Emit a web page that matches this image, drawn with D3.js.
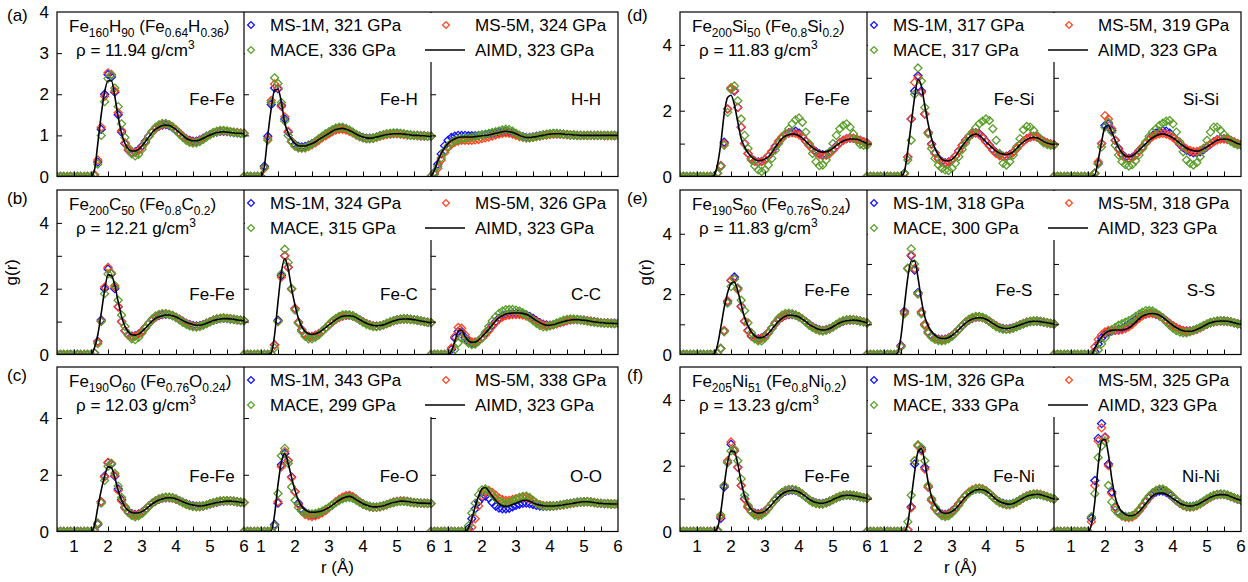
<!DOCTYPE html>
<html>
<head>
<meta charset="utf-8">
<script src="https://cdn.jsdelivr.net/npm/d3@7"></script>
<style>
body { margin: 0; background: #fff; }
svg text { font-family: "Liberation Sans", Arial, Helvetica, sans-serif; fill: #000; }
</style>
</head>
<body>
<div id="chart"></div>
<script>
// r grid (Angstrom) shared by every curve
var rGrid = [0.5,0.6,0.7,0.8,0.9,1.0,1.1,1.2,1.3,1.4,1.5,1.6,1.7,1.8,1.9,2.0,2.1,2.2,2.3,2.4,2.5,2.6,2.7,2.8,2.9,3.0,
  3.1,3.2,3.3,3.4,3.5,3.6,3.7,3.8,3.9,4.0,4.1,4.2,4.3,4.4,4.5,4.6,4.7,4.8,4.9,5.0,5.1,5.2,5.3,5.4,5.5,5.6,5.7,5.8,5.9,6.0];

// ---- (a) Fe-H ----
var aFeFe_aimd = [0,0,0,0,0,0,0,0,0,0,0, 0.15,0.8,1.5,2.05,2.33,2.33,1.95,1.45,1.05,0.8, 0.67,0.62,0.62,0.66,0.74,0.85,0.96,1.07,1.15,1.2, 1.24,1.25,1.24,1.2,1.14,1.07,1.0,0.93,0.89,0.87, 0.87,0.89,0.93,0.97,1.01,1.04,1.07,1.08,1.09,1.08, 1.07,1.06,1.05,1.05,1.04];
var aFeFe_ms1 = [0,0,0,0,0,0,0,0,0,0,0, 0.04,0.35,1.15,2.0,2.48,2.42,2.05,1.5,1.08,0.8, 0.64,0.59,0.6,0.65,0.74,0.86,0.98,1.09,1.17,1.22, 1.25,1.26,1.24,1.19,1.12,1.05,0.98,0.92,0.88,0.86, 0.86,0.89,0.93,0.98,1.02,1.06,1.08,1.1,1.1,1.09, 1.08,1.07,1.06,1.05,1.05];
var aFeFe_ms5 = [0,0,0,0,0,0,0,0,0,0,0, 0.05,0.4,1.2,1.95,2.52,2.48,2.08,1.55,1.12,0.82, 0.65,0.58,0.58,0.63,0.72,0.84,0.97,1.08,1.17,1.23, 1.27,1.28,1.26,1.21,1.14,1.06,0.98,0.91,0.86,0.84, 0.84,0.87,0.92,0.97,1.02,1.06,1.09,1.11,1.11,1.1, 1.09,1.08,1.07,1.06,1.05];
var aFeFe_mace = [0,0,0,0,0,0,0,0,0,0,0, 0.02,0.3,1.0,1.82,2.38,2.47,2.15,1.7,1.28,0.95, 0.7,0.55,0.5,0.54,0.66,0.82,0.97,1.1,1.2,1.26, 1.29,1.29,1.26,1.2,1.12,1.03,0.95,0.88,0.83,0.81, 0.82,0.85,0.9,0.96,1.02,1.07,1.1,1.12,1.12,1.11, 1.09,1.07,1.06,1.05,1.04];
var aFeH_aimd = [0,0,0,0,0,0,0.25,1.0,1.65,2.1,2.12, 1.8,1.3,1.05,0.9,0.8,0.75,0.74,0.74,0.77,0.8, 0.84,0.9,0.95,1.0,1.05,1.1,1.14,1.16,1.17,1.15, 1.12,1.08,1.03,0.99,0.96,0.94,0.93,0.94,0.96,0.98, 1.0,1.02,1.03,1.04,1.04,1.04,1.03,1.02,1.01,1.0, 1.0,0.99,0.99,0.98,0.98];
var aFeH_ms1 = [0,0,0,0,0,0,0.25,0.98,1.75,2.15,2.13, 1.73,1.4,1.08,0.86,0.78,0.73,0.72,0.73,0.76,0.8, 0.84,0.9,0.96,1.01,1.06,1.11,1.15,1.17,1.17,1.15, 1.11,1.07,1.02,0.98,0.95,0.93,0.93,0.94,0.96,0.99, 1.01,1.03,1.04,1.05,1.05,1.04,1.03,1.02,1.01,1.0, 1.0,0.99,0.99,0.98,0.98];
var aFeH_ms5 = [0,0,0,0,0,0,0.2,0.92,1.85,2.25,2.15, 1.7,1.45,1.1,0.85,0.74,0.7,0.69,0.7,0.73,0.77, 0.82,0.88,0.94,0.99,1.04,1.09,1.13,1.15,1.15,1.13, 1.1,1.06,1.01,0.97,0.94,0.92,0.92,0.93,0.95,0.98, 1.0,1.02,1.03,1.04,1.04,1.03,1.02,1.01,1.0,1.0, 0.99,0.99,0.98,0.98,0.98];
var aFeH_mace = [0,0,0,0,0,0,0.22,0.88,1.8,2.4,2.26, 1.8,1.35,1.0,0.84,0.74,0.7,0.69,0.7,0.74,0.79, 0.85,0.92,0.98,1.04,1.09,1.14,1.18,1.2,1.2,1.17, 1.13,1.08,1.02,0.97,0.94,0.92,0.92,0.93,0.96,0.99, 1.02,1.04,1.05,1.06,1.06,1.05,1.04,1.02,1.01,1.0, 1.0,0.99,0.99,0.98,0.98];
var aHH_aimd = [0,0.15,0.38,0.56,0.7,0.8,0.87,0.92,0.95,0.96,0.96, 0.96,0.96,0.97,0.98,0.99,1.0,1.01,1.03,1.05,1.07, 1.09,1.1,1.09,1.07,1.04,1.0,0.97,0.95,0.95,0.96, 0.97,0.99,1.0,1.02,1.03,1.04,1.04,1.04,1.03,1.02, 1.02,1.01,1.01,1.0,1.0,1.0,1.0,1.0,1.0,1.0, 1.0,1.0,1.0,1.0,1.0];
var aHH_ms1 = [0,0.1,0.3,0.55,0.75,0.88,0.95,0.98,1.0,1.0,1.0, 0.99,0.99,0.99,1.0,1.01,1.02,1.03,1.04,1.06,1.07, 1.08,1.09,1.08,1.06,1.03,1.0,0.97,0.95,0.95,0.96, 0.98,0.99,1.01,1.02,1.03,1.04,1.04,1.03,1.03,1.02, 1.01,1.01,1.0,1.0,1.0,1.0,1.0,1.0,1.0,1.0, 1.0,1.0,1.0,1.0,1.0];
var aHH_ms5 = [0,0.05,0.2,0.4,0.58,0.7,0.78,0.83,0.86,0.88,0.88, 0.88,0.88,0.89,0.9,0.92,0.94,0.96,0.98,1.01,1.03, 1.05,1.06,1.05,1.03,1.0,0.97,0.95,0.94,0.94,0.95, 0.97,0.98,1.0,1.01,1.02,1.03,1.03,1.03,1.02,1.02, 1.01,1.01,1.0,1.0,1.0,1.0,1.0,1.0,1.0,1.0, 0.99,0.99,0.99,0.99,0.99];
var aHH_mace = [0,0.08,0.25,0.45,0.62,0.74,0.82,0.87,0.9,0.92,0.93, 0.94,0.95,0.97,0.99,1.01,1.03,1.05,1.07,1.09,1.11, 1.13,1.15,1.14,1.1,1.05,1.0,0.96,0.94,0.94,0.95, 0.97,0.99,1.01,1.03,1.04,1.05,1.05,1.04,1.03,1.02, 1.01,1.01,1.0,1.0,1.0,1.0,1.0,1.0,1.0,1.0, 1.0,1.0,1.0,1.0,1.0];

// ---- (b) Fe-C ----
var bFeFe_aimd = [0,0,0,0,0,0,0,0,0,0,0, 0.2,0.6,1.25,1.95,2.42,2.4,2.1,1.6,1.15,0.85, 0.68,0.6,0.59,0.62,0.7,0.8,0.91,1.02,1.1,1.15, 1.18,1.2,1.2,1.18,1.14,1.09,1.03,0.98,0.94,0.91, 0.89,0.89,0.91,0.95,0.99,1.03,1.06,1.08,1.09,1.09, 1.08,1.07,1.05,1.04,1.03];
var bFeFe_ms1 = [0,0,0,0,0,0,0,0,0,0,0, 0.05,0.4,1.05,2.0,2.6,2.45,2.0,1.45,1.0,0.72, 0.6,0.56,0.57,0.62,0.71,0.82,0.94,1.05,1.13,1.18, 1.21,1.22,1.21,1.18,1.13,1.07,1.01,0.95,0.91,0.88, 0.87,0.88,0.91,0.95,1.0,1.04,1.07,1.09,1.1,1.09, 1.08,1.07,1.05,1.04,1.03];
var bFeFe_ms5 = [0,0,0,0,0,0,0,0,0,0,0, 0.05,0.38,1.02,2.05,2.65,2.48,2.05,1.45,1.0,0.72, 0.58,0.54,0.56,0.61,0.7,0.82,0.94,1.05,1.14,1.2, 1.23,1.24,1.22,1.19,1.13,1.07,1.0,0.94,0.89,0.86, 0.85,0.87,0.9,0.95,1.0,1.04,1.08,1.1,1.11,1.1, 1.09,1.07,1.05,1.04,1.03];
var bFeFe_mace = [0,0,0,0,0,0,0,0,0,0,0, 0.05,0.33,1.0,1.85,2.45,2.45,2.1,1.65,1.2,0.85, 0.6,0.48,0.45,0.52,0.65,0.8,0.95,1.08,1.17,1.22, 1.24,1.24,1.22,1.18,1.12,1.05,0.98,0.92,0.87,0.84, 0.83,0.85,0.89,0.94,0.99,1.04,1.08,1.1,1.11,1.1, 1.09,1.07,1.05,1.04,1.03];
var bFeC_aimd = [0,0,0,0,0,0,0,0,0.05,0.6,1.6, 2.5,2.92,2.6,2.0,1.5,1.1,0.84,0.7,0.63,0.61, 0.63,0.67,0.74,0.82,0.9,0.98,1.06,1.12,1.16,1.18, 1.18,1.16,1.12,1.06,1.0,0.95,0.91,0.88,0.87,0.88, 0.9,0.94,0.98,1.02,1.05,1.07,1.08,1.08,1.07,1.06, 1.04,1.02,1.0,0.98,0.97];
var bFeC_ms1 = [0,0,0,0,0,0,0,0,0.02,0.3,1.04, 2.4,3.0,2.65,2.0,1.4,0.98,0.75,0.6,0.55,0.55, 0.58,0.63,0.71,0.8,0.9,0.99,1.07,1.13,1.17,1.19, 1.19,1.17,1.12,1.06,1.0,0.94,0.9,0.87,0.86,0.87, 0.9,0.94,0.98,1.02,1.05,1.07,1.08,1.08,1.07,1.06, 1.04,1.02,1.0,0.98,0.97];
var bFeC_ms5 = [0,0,0,0,0,0,0,0,0.02,0.28,1.0, 2.35,3.0,2.65,1.98,1.4,0.98,0.74,0.6,0.55,0.55, 0.58,0.63,0.71,0.8,0.9,0.99,1.07,1.13,1.17,1.19, 1.19,1.17,1.12,1.06,1.0,0.94,0.9,0.87,0.86,0.87, 0.9,0.94,0.98,1.02,1.05,1.07,1.08,1.08,1.07,1.06, 1.04,1.02,1.0,0.98,0.97];
var bFeC_mace = [0,0,0,0,0,0,0,0,0.02,0.2,1.0, 2.45,3.2,2.8,2.0,1.35,0.95,0.7,0.55,0.48,0.48, 0.52,0.6,0.7,0.81,0.92,1.02,1.1,1.16,1.2,1.21, 1.2,1.17,1.12,1.05,0.98,0.92,0.88,0.85,0.85,0.87, 0.9,0.95,0.99,1.03,1.06,1.08,1.09,1.08,1.07,1.06, 1.04,1.02,1.0,0.98,0.97];
var bCC_aimd = [0,0,0,0,0,0,0.1,0.4,0.7,0.74,0.55, 0.42,0.37,0.38,0.44,0.54,0.65,0.77,0.9,1.02,1.12, 1.18,1.23,1.25,1.26,1.26,1.26,1.25,1.22,1.17,1.1, 1.03,0.97,0.92,0.89,0.89,0.91,0.94,0.97,1.0,1.03, 1.05,1.06,1.06,1.05,1.04,1.03,1.01,0.99,0.98,0.97, 0.96,0.95,0.95,0.94,0.94];
var bCC_ms1 = [0,0,0,0,0,0,0.15,0.5,0.7,0.7,0.52, 0.4,0.35,0.36,0.42,0.52,0.63,0.75,0.88,1.0,1.1, 1.17,1.22,1.24,1.25,1.25,1.25,1.24,1.21,1.16,1.1, 1.03,0.97,0.92,0.9,0.89,0.91,0.94,0.97,1.0,1.03, 1.05,1.06,1.06,1.05,1.04,1.03,1.01,1.0,0.98,0.97, 0.96,0.96,0.95,0.95,0.95];
var bCC_ms5 = [0,0,0,0,0,0,0.2,0.55,0.82,0.8,0.6, 0.45,0.38,0.38,0.42,0.5,0.6,0.72,0.85,0.97,1.07, 1.14,1.18,1.2,1.21,1.21,1.21,1.2,1.17,1.12,1.06, 1.0,0.94,0.9,0.88,0.88,0.9,0.93,0.97,1.0,1.03, 1.05,1.06,1.06,1.05,1.04,1.02,1.01,0.99,0.98,0.97, 0.96,0.95,0.95,0.94,0.94];
var bCC_mace = [0,0,0,0,0,0,0.02,0.15,0.35,0.5,0.45, 0.35,0.3,0.32,0.4,0.52,0.68,0.85,1.02,1.15,1.25, 1.32,1.36,1.37,1.37,1.35,1.32,1.27,1.2,1.12,1.03, 0.95,0.88,0.84,0.84,0.87,0.91,0.96,1.0,1.04,1.07, 1.08,1.08,1.07,1.05,1.03,1.01,0.99,0.98,0.97,0.96, 0.95,0.95,0.94,0.94,0.94];

// ---- (c) Fe-O ----
var cFeFe_aimd = [0,0,0,0,0,0,0,0,0,0,0, 0.2,0.85,1.45,1.95,2.28,2.25,1.9,1.45,1.1,0.87, 0.74,0.67,0.65,0.66,0.7,0.78,0.88,0.97,1.05,1.11, 1.15,1.18,1.19,1.18,1.15,1.1,1.05,1.0,0.96,0.93, 0.91,0.9,0.91,0.93,0.96,0.99,1.02,1.04,1.06,1.07, 1.07,1.06,1.05,1.03,1.02];
var cFeFe_ms1 = [0,0,0,0,0,0,0,0,0,0,0, 0.02,0.25,1.05,1.95,2.42,2.38,1.95,1.5,1.12,0.85, 0.7,0.63,0.6,0.62,0.68,0.78,0.89,0.99,1.07,1.13, 1.17,1.19,1.19,1.18,1.14,1.09,1.03,0.98,0.94,0.91, 0.89,0.89,0.9,0.93,0.97,1.0,1.03,1.06,1.07,1.08, 1.08,1.07,1.05,1.03,1.02];
var cFeFe_ms5 = [0,0,0,0,0,0,0,0,0,0,0, 0.02,0.28,1.05,1.92,2.44,2.4,1.98,1.45,1.08,0.82, 0.67,0.6,0.58,0.6,0.67,0.77,0.89,1.0,1.08,1.14, 1.18,1.2,1.2,1.18,1.14,1.08,1.02,0.96,0.92,0.89, 0.88,0.88,0.9,0.93,0.97,1.01,1.04,1.07,1.08,1.09, 1.08,1.07,1.05,1.03,1.02];
var cFeFe_mace = [0,0,0,0,0,0,0,0,0,0,0, 0.05,0.3,1.0,1.8,2.3,2.4,2.05,1.6,1.2,0.88, 0.68,0.56,0.52,0.55,0.63,0.75,0.88,1.0,1.09,1.15, 1.19,1.21,1.21,1.19,1.15,1.09,1.02,0.96,0.91,0.88, 0.87,0.88,0.9,0.94,0.98,1.02,1.05,1.08,1.09,1.09, 1.08,1.07,1.05,1.03,1.02];
var cFeO_aimd = [0,0,0,0,0,0,0,0,0.02,0.6,1.65, 2.45,2.75,2.4,1.9,1.45,1.1,0.88,0.76,0.7,0.68, 0.68,0.7,0.73,0.78,0.85,0.93,1.02,1.1,1.17,1.22, 1.24,1.2,1.12,1.05,0.98,0.93,0.89,0.87,0.87,0.88, 0.91,0.95,0.99,1.02,1.05,1.07,1.07,1.06,1.04,1.02, 1.01,1.0,1.0,0.99,0.99];
var cFeO_ms1 = [0,0,0,0,0,0,0,0,0.02,0.25,1.0, 2.35,2.75,2.5,1.92,1.4,1.0,0.78,0.67,0.62,0.6, 0.6,0.63,0.68,0.75,0.84,0.93,1.03,1.12,1.19,1.24, 1.26,1.22,1.14,1.05,0.97,0.92,0.88,0.86,0.86,0.88, 0.91,0.95,0.99,1.03,1.06,1.07,1.07,1.06,1.04,1.02, 1.01,1.0,1.0,0.99,0.99];
var cFeO_ms5 = [0,0,0,0,0,0,0,0,0.02,0.2,1.05, 2.28,2.82,2.5,1.9,1.4,0.95,0.72,0.6,0.55,0.53, 0.55,0.6,0.66,0.74,0.84,0.95,1.05,1.14,1.21,1.26, 1.28,1.23,1.14,1.05,0.97,0.91,0.87,0.85,0.85,0.87, 0.9,0.94,0.99,1.03,1.06,1.08,1.08,1.06,1.04,1.02, 1.01,1.0,0.99,0.99,0.98];
var cFeO_mace = [0,0,0,0,0,0,0,0,0.02,0.2,1.34, 2.67,2.93,2.4,1.57,1.1,0.85,0.72,0.65,0.62,0.62, 0.64,0.67,0.72,0.79,0.86,0.94,1.02,1.09,1.15,1.19, 1.2,1.17,1.1,1.03,0.96,0.91,0.88,0.86,0.86,0.88, 0.91,0.95,0.99,1.02,1.05,1.06,1.06,1.05,1.03,1.02, 1.01,1.0,1.0,0.99,0.99];
var cOO_aimd = [0,0,0,0,0,0,0,0,0,0,0, 0.12,0.45,0.87,1.25,1.5,1.55,1.42,1.25,1.1,0.98, 0.91,0.88,0.9,0.95,1.0,1.05,1.09,1.1,1.07,1.01, 0.96,0.93,0.91,0.9,0.9,0.9,0.91,0.92,0.94,0.96, 0.98,1.0,1.02,1.04,1.05,1.05,1.04,1.02,1.0,0.99, 0.98,0.98,0.97,0.97,0.97];
var cOO_ms1 = [0,0,0,0,0,0,0,0,0,0,0, 0.1,0.45,0.8,1.05,1.2,1.25,1.18,1.02,0.9,0.83, 0.8,0.8,0.82,0.87,0.92,0.96,0.99,1.0,0.98,0.95, 0.92,0.9,0.89,0.89,0.9,0.9,0.91,0.93,0.95,0.97, 0.99,1.01,1.03,1.04,1.05,1.05,1.04,1.02,1.0,0.99, 0.98,0.98,0.97,0.97,0.97];
var cOO_ms5 = [0,0,0,0,0,0,0,0,0,0,0, 0.02,0.15,0.45,0.9,1.25,1.42,1.45,1.38,1.28,1.18, 1.12,1.1,1.1,1.13,1.16,1.19,1.2,1.2,1.15,1.08, 1.0,0.95,0.92,0.91,0.9,0.9,0.91,0.92,0.94,0.96, 0.98,1.0,1.02,1.04,1.05,1.05,1.04,1.02,1.0,0.99, 0.98,0.98,0.97,0.97,0.97];
var cOO_mace = [0,0,0,0,0,0,0,0,0,0,0, 0.2,0.65,1.0,1.3,1.47,1.5,1.42,1.3,1.18,1.08, 1.02,1.0,1.02,1.08,1.14,1.2,1.24,1.25,1.2,1.1, 1.0,0.94,0.9,0.89,0.89,0.9,0.91,0.93,0.95,0.97, 0.99,1.01,1.03,1.04,1.05,1.05,1.04,1.02,1.0,0.99, 0.98,0.98,0.97,0.97,0.97];

// ---- (d) Fe-Si ----
var dFeFe_aimd = [0,0,0,0,0,0,0,0,0,0,0.02, 0.35,1.0,1.9,2.4,2.47,2.18,1.65,1.15,0.9,0.72, 0.6,0.52,0.48,0.49,0.53,0.6,0.72,0.88,1.03,1.15, 1.23,1.27,1.29,1.28,1.24,1.17,1.07,0.97,0.88,0.81, 0.76,0.74,0.75,0.79,0.86,0.94,1.02,1.08,1.12,1.14, 1.14,1.13,1.1,1.05,1.0];
var dFeFe_ms1 = [0,0,0,0,0,0,0,0,0,0,0, 0.1,0.33,1.04,2.05,2.68,2.6,2.1,1.5,1.0,0.7, 0.55,0.47,0.44,0.46,0.52,0.62,0.75,0.9,1.06,1.19, 1.28,1.33,1.36,1.38,1.32,1.22,1.08,0.95,0.84,0.75, 0.69,0.66,0.67,0.72,0.82,0.93,1.03,1.1,1.15,1.17, 1.16,1.13,1.1,1.06,1.02];
var dFeFe_ms5 = [0,0,0,0,0,0,0,0,0,0,0, 0.1,0.33,1.0,2.05,2.7,2.62,2.1,1.5,1.0,0.7, 0.54,0.46,0.43,0.45,0.52,0.63,0.77,0.93,1.08,1.2, 1.28,1.32,1.33,1.31,1.27,1.19,1.07,0.95,0.83,0.73, 0.66,0.63,0.64,0.7,0.8,0.91,1.02,1.1,1.15,1.17, 1.16,1.14,1.1,1.06,1.02];
var dFeFe_mace = [0,0,0,0,0,0,0,0,0,0,0, 0.1,0.3,0.95,1.95,2.65,2.75,2.3,1.75,1.25,0.85, 0.5,0.32,0.2,0.15,0.2,0.35,0.55,0.8,1.0,1.15, 1.3,1.45,1.6,1.72,1.78,1.65,1.35,1.0,0.7,0.45, 0.33,0.35,0.5,0.75,1.0,1.25,1.45,1.55,1.6,1.5, 1.3,1.1,0.98,0.95,0.95];
var dFeSi_aimd = [0,0,0,0,0,0,0,0,0,0,0, 0.15,0.8,1.6,2.4,2.95,2.75,2.15,1.6,1.15,0.85, 0.65,0.53,0.48,0.48,0.52,0.62,0.77,0.92,1.06,1.18, 1.26,1.29,1.25,1.16,1.05,0.96,0.86,0.77,0.71,0.68, 0.67,0.69,0.75,0.85,0.96,1.05,1.12,1.17,1.19,1.18, 1.13,1.06,1.02,0.99,0.97];
var dFeSi_ms1 = [0,0,0,0,0,0,0,0,0,0,0, 0.1,0.59,1.75,2.6,3.06,2.6,1.9,1.34,0.99,0.72, 0.55,0.45,0.42,0.44,0.5,0.62,0.78,0.95,1.1,1.22, 1.3,1.33,1.3,1.2,1.07,0.95,0.82,0.72,0.65,0.62, 0.62,0.66,0.74,0.85,0.97,1.07,1.15,1.2,1.22,1.2, 1.14,1.07,1.02,0.99,0.97];
var dFeSi_ms5 = [0,0,0,0,0,0,0,0,0,0,0, 0.08,0.59,1.75,2.86,3.0,2.55,1.9,1.34,0.97,0.7, 0.53,0.43,0.4,0.43,0.5,0.62,0.78,0.95,1.1,1.22, 1.3,1.32,1.28,1.18,1.05,0.93,0.8,0.7,0.63,0.6, 0.6,0.64,0.73,0.85,0.97,1.07,1.15,1.2,1.22,1.2, 1.14,1.07,1.02,0.99,0.97];
var dFeSi_mace = [0,0,0,0,0,0,0,0,0,0,0, 0.1,0.5,1.1,2.5,3.3,2.9,2.1,1.3,0.85,0.55, 0.35,0.25,0.2,0.18,0.25,0.4,0.6,0.82,1.02,1.2, 1.35,1.48,1.6,1.68,1.75,1.7,1.45,1.1,0.7,0.4, 0.35,0.45,0.65,0.9,1.15,1.42,1.52,1.5,1.4,1.25, 1.12,1.02,0.97,0.95,0.95];
var dSiSi_aimd = [0,0,0,0,0,0,0,0,0,0,0, 0,0.05,0.5,1.05,1.5,1.55,1.35,1.1,0.88,0.72, 0.62,0.6,0.63,0.7,0.8,0.9,1.0,1.1,1.18,1.24, 1.28,1.29,1.27,1.23,1.17,1.1,1.01,0.93,0.86,0.81, 0.78,0.77,0.79,0.84,0.9,0.97,1.04,1.1,1.13,1.14, 1.13,1.1,1.05,1.0,0.97];
var dSiSi_ms1 = [0,0,0,0,0,0,0,0,0,0,0, 0,0.1,0.4,1.0,1.55,1.6,1.4,1.1,0.85,0.68, 0.58,0.55,0.58,0.66,0.78,0.9,1.02,1.14,1.24,1.32, 1.37,1.4,1.38,1.32,1.22,1.1,0.98,0.88,0.8,0.75, 0.72,0.72,0.75,0.82,0.9,0.98,1.06,1.12,1.15,1.15, 1.13,1.09,1.04,1.0,0.97];
var dSiSi_ms5 = [0,0,0,0,0,0,0,0,0,0,0, 0,0.1,0.45,1.0,1.85,1.75,1.45,1.1,0.82,0.65, 0.55,0.52,0.56,0.65,0.77,0.9,1.02,1.13,1.21,1.27, 1.3,1.31,1.29,1.25,1.18,1.1,1.0,0.91,0.84,0.79, 0.76,0.76,0.79,0.85,0.92,0.99,1.06,1.11,1.14,1.14, 1.13,1.1,1.05,1.0,0.97];
var dSiSi_mace = [0,0,0,0,0,0,0,0,0,0,0, 0,0.1,0.38,0.9,1.5,1.65,1.35,0.95,0.65,0.45, 0.36,0.32,0.36,0.48,0.65,0.85,1.05,1.22,1.35,1.45, 1.55,1.62,1.68,1.7,1.6,1.35,1.05,0.75,0.5,0.4, 0.35,0.42,0.6,0.85,1.1,1.35,1.5,1.5,1.4,1.28, 1.18,1.07,1.0,0.96,0.95];

// ---- (e) Fe-S ----
var eFeFe_aimd = [0,0,0,0,0,0,0,0,0,0,0.02, 0.3,0.9,1.55,2.05,2.35,2.4,2.1,1.65,1.22,0.95, 0.74,0.62,0.56,0.56,0.61,0.7,0.83,0.98,1.1,1.2, 1.27,1.3,1.3,1.28,1.24,1.17,1.09,1.0,0.93,0.87, 0.83,0.81,0.82,0.86,0.92,0.99,1.05,1.09,1.12,1.13, 1.14,1.13,1.11,1.08,1.05];
var eFeFe_ms1 = [0,0,0,0,0,0,0,0,0,0,0, 0.05,0.2,0.78,1.75,2.45,2.57,2.2,1.6,1.1,0.8, 0.62,0.55,0.52,0.55,0.62,0.73,0.87,1.02,1.14,1.23, 1.29,1.32,1.32,1.3,1.25,1.18,1.09,1.0,0.92,0.86, 0.82,0.8,0.82,0.86,0.92,0.99,1.05,1.1,1.13,1.14, 1.14,1.13,1.11,1.08,1.05];
var eFeFe_ms5 = [0,0,0,0,0,0,0,0,0,0,0, 0.05,0.2,0.8,1.78,2.46,2.5,2.15,1.58,1.1,0.78, 0.6,0.53,0.5,0.53,0.61,0.73,0.88,1.03,1.16,1.25, 1.31,1.34,1.34,1.31,1.26,1.18,1.09,0.99,0.91,0.85, 0.81,0.79,0.81,0.85,0.92,0.99,1.06,1.11,1.14,1.15, 1.15,1.14,1.11,1.08,1.05];
var eFeFe_mace = [0,0,0,0,0,0,0,0,0,0,0, 0.05,0.2,0.75,1.7,2.25,2.5,2.2,1.8,1.45,1.05, 0.72,0.52,0.45,0.45,0.55,0.7,0.88,1.06,1.2,1.3, 1.36,1.37,1.35,1.31,1.25,1.17,1.07,0.97,0.89,0.83, 0.79,0.78,0.8,0.85,0.92,1.0,1.07,1.12,1.15,1.16, 1.15,1.13,1.11,1.08,1.05];
var eFeS_aimd = [0,0,0,0,0,0,0,0,0,0.05,0.6, 1.6,2.55,3.1,3.1,2.55,1.8,1.25,0.95,0.76,0.64, 0.56,0.53,0.53,0.56,0.63,0.72,0.83,0.94,1.04,1.12, 1.18,1.21,1.22,1.21,1.17,1.11,1.03,0.96,0.9,0.87, 0.86,0.87,0.9,0.94,0.98,1.02,1.06,1.09,1.1,1.1, 1.09,1.07,1.05,1.03,1.01];
var eFeS_ms1 = [0,0,0,0,0,0,0,0,0,0.02,0.3, 1.43,2.85,3.27,2.8,2.05,1.41,1.0,0.75,0.62,0.55, 0.51,0.5,0.51,0.55,0.62,0.72,0.83,0.95,1.06,1.14, 1.2,1.23,1.24,1.22,1.17,1.1,1.02,0.95,0.89,0.86, 0.85,0.86,0.89,0.93,0.98,1.02,1.06,1.09,1.1,1.1, 1.09,1.07,1.05,1.03,1.01];
var eFeS_ms5 = [0,0,0,0,0,0,0,0,0,0.02,0.28, 1.4,2.85,3.3,2.85,2.0,1.41,1.0,0.74,0.6,0.53, 0.49,0.48,0.5,0.54,0.62,0.72,0.84,0.96,1.07,1.15, 1.21,1.24,1.24,1.22,1.17,1.1,1.02,0.95,0.89,0.85, 0.84,0.85,0.88,0.93,0.98,1.03,1.07,1.1,1.11,1.11, 1.1,1.08,1.05,1.03,1.01];
var eFeS_mace = [0,0,0,0,0,0,0,0,0,0.02,0.25, 1.35,2.85,3.5,3.0,2.02,1.35,0.95,0.7,0.58,0.5, 0.46,0.45,0.47,0.52,0.6,0.7,0.83,0.96,1.08,1.17, 1.23,1.26,1.26,1.23,1.17,1.09,1.0,0.92,0.87,0.84, 0.83,0.84,0.87,0.92,0.97,1.02,1.07,1.1,1.11,1.11, 1.1,1.08,1.05,1.03,1.01];
var eSS_aimd = [0,0,0,0,0,0,0,0,0,0,0, 0,0.2,0.42,0.58,0.7,0.77,0.8,0.81,0.81,0.81, 0.84,0.88,0.96,1.07,1.18,1.27,1.32,1.35,1.36,1.34, 1.3,1.23,1.14,1.05,0.96,0.89,0.83,0.79,0.77,0.77, 0.79,0.83,0.88,0.94,1.0,1.05,1.08,1.1,1.11,1.11, 1.1,1.08,1.05,1.02,1.0];
var eSS_ms1 = [0,0,0,0,0,0,0,0,0,0,0, 0,0.1,0.35,0.55,0.68,0.75,0.78,0.8,0.82,0.86, 0.92,1.0,1.08,1.16,1.24,1.3,1.35,1.37,1.36,1.33, 1.28,1.21,1.12,1.03,0.95,0.88,0.83,0.79,0.78,0.78, 0.8,0.84,0.89,0.95,1.0,1.05,1.08,1.1,1.11,1.11, 1.1,1.08,1.05,1.02,1.0];
var eSS_ms5 = [0,0,0,0,0,0,0,0,0,0,0, 0,0.25,0.5,0.65,0.75,0.8,0.8,0.8,0.8,0.82, 0.86,0.92,1.0,1.1,1.2,1.28,1.33,1.36,1.36,1.33, 1.28,1.21,1.12,1.03,0.95,0.88,0.82,0.79,0.77,0.77, 0.79,0.83,0.88,0.94,1.0,1.05,1.08,1.1,1.11,1.11, 1.1,1.08,1.05,1.02,1.0];
var eSS_mace = [0,0,0,0,0,0,0,0,0,0,0, 0,0.02,0.15,0.35,0.55,0.7,0.82,0.9,0.97,1.02, 1.07,1.12,1.18,1.26,1.34,1.4,1.45,1.46,1.44,1.38, 1.3,1.2,1.08,0.97,0.87,0.79,0.74,0.72,0.72,0.75, 0.8,0.85,0.9,0.96,1.01,1.06,1.09,1.11,1.12,1.11, 1.1,1.08,1.05,1.02,1.0];

// ---- (f) Fe-Ni ----
var fFeFe_aimd = [0,0,0,0,0,0,0,0,0,0,0, 0.1,0.6,1.4,2.1,2.45,2.42,2.05,1.5,1.08,0.82, 0.67,0.59,0.56,0.57,0.62,0.71,0.82,0.94,1.05,1.14, 1.2,1.24,1.25,1.24,1.2,1.14,1.06,0.98,0.92,0.88, 0.86,0.86,0.88,0.92,0.97,1.02,1.06,1.09,1.1,1.1, 1.09,1.07,1.05,1.03,1.01];
var fFeFe_ms1 = [0,0,0,0,0,0,0,0,0,0,0, 0.02,0.4,1.35,2.1,2.65,2.45,1.95,1.4,1.0,0.75, 0.62,0.56,0.54,0.56,0.62,0.72,0.84,0.96,1.07,1.16, 1.22,1.25,1.26,1.24,1.2,1.13,1.05,0.97,0.91,0.87, 0.85,0.85,0.88,0.92,0.97,1.02,1.06,1.09,1.1,1.1, 1.09,1.07,1.05,1.03,1.01];
var fFeFe_ms5 = [0,0,0,0,0,0,0,0,0,0,0, 0.02,0.45,1.4,2.15,2.72,2.45,1.95,1.4,0.98,0.73, 0.6,0.54,0.52,0.55,0.61,0.72,0.85,0.98,1.09,1.18, 1.24,1.27,1.28,1.26,1.21,1.14,1.05,0.97,0.9,0.86, 0.84,0.84,0.87,0.92,0.97,1.02,1.07,1.1,1.11,1.11, 1.1,1.08,1.05,1.03,1.01];
var fFeFe_mace = [0,0,0,0,0,0,0,0,0,0,0, 0.05,0.5,1.4,2.1,2.45,2.5,2.15,1.6,1.1,0.8, 0.6,0.5,0.47,0.5,0.58,0.7,0.84,0.98,1.1,1.19, 1.25,1.28,1.28,1.26,1.21,1.13,1.04,0.96,0.89,0.85, 0.83,0.84,0.87,0.92,0.97,1.02,1.07,1.1,1.11,1.11, 1.1,1.08,1.05,1.03,1.01];
var fFeNi_aimd = [0,0,0,0,0,0,0,0,0,0,0, 0,0.25,1.0,1.8,2.42,2.52,2.1,1.5,1.05,0.82, 0.68,0.58,0.55,0.56,0.61,0.69,0.8,0.93,1.05,1.14, 1.21,1.26,1.28,1.27,1.23,1.16,1.07,0.98,0.91,0.87, 0.84,0.83,0.85,0.9,0.96,1.02,1.07,1.1,1.12,1.13, 1.12,1.09,1.06,1.02,0.99];
var fFeNi_ms1 = [0,0,0,0,0,0,0,0,0,0,0, 0,0.05,0.75,2.05,2.62,2.5,1.95,1.35,0.95,0.72, 0.6,0.53,0.52,0.55,0.62,0.72,0.84,0.97,1.09,1.18, 1.25,1.29,1.3,1.28,1.23,1.15,1.06,0.97,0.9,0.86, 0.83,0.83,0.85,0.9,0.96,1.02,1.07,1.11,1.13,1.13, 1.12,1.09,1.06,1.02,0.99];
var fFeNi_ms5 = [0,0,0,0,0,0,0,0,0,0,0, 0,0.05,0.72,2.15,2.6,2.45,1.9,1.35,0.95,0.7, 0.58,0.51,0.5,0.53,0.6,0.71,0.84,0.98,1.1,1.2, 1.27,1.31,1.32,1.3,1.24,1.16,1.06,0.97,0.89,0.84, 0.81,0.81,0.84,0.89,0.95,1.02,1.08,1.12,1.14,1.14, 1.13,1.1,1.06,1.02,0.99];
var fFeNi_mace = [0,0,0,0,0,0,0,0,0,0,0, 0,0.3,1.1,2.15,2.63,2.55,2.15,1.4,1.0,0.75, 0.58,0.48,0.45,0.48,0.56,0.67,0.8,0.95,1.08,1.18, 1.25,1.29,1.3,1.28,1.22,1.14,1.04,0.95,0.88,0.84, 0.82,0.82,0.85,0.9,0.96,1.02,1.07,1.11,1.13,1.13, 1.12,1.09,1.06,1.02,0.99];
var fNiNi_aimd = [0,0,0,0,0,0,0,0,0,0,0, 0.2,0.9,2.0,2.75,2.8,2.35,1.6,1.05,0.75,0.6, 0.52,0.48,0.48,0.52,0.6,0.72,0.85,0.97,1.08,1.15, 1.17,1.17,1.13,1.07,1.0,0.93,0.86,0.81,0.78,0.77, 0.78,0.81,0.86,0.92,0.98,1.04,1.08,1.11,1.12,1.12, 1.1,1.06,1.02,0.98,0.95];
var fNiNi_ms1 = [0,0,0,0,0,0,0,0,0,0,0, 0.4,1.55,2.83,3.28,2.87,2.05,1.2,0.75,0.58,0.5, 0.46,0.45,0.47,0.53,0.63,0.76,0.9,1.03,1.13,1.2, 1.23,1.23,1.19,1.12,1.03,0.94,0.86,0.8,0.77,0.76, 0.77,0.8,0.85,0.91,0.98,1.04,1.09,1.12,1.13,1.13, 1.1,1.06,1.02,0.98,0.95];
var fNiNi_ms5 = [0,0,0,0,0,0,0,0,0,0,0, 0.3,1.4,2.75,3.15,2.85,2.0,1.15,0.72,0.55,0.47, 0.43,0.42,0.44,0.51,0.62,0.76,0.91,1.05,1.16,1.24, 1.28,1.28,1.23,1.15,1.05,0.95,0.86,0.79,0.75,0.74, 0.75,0.78,0.84,0.9,0.97,1.04,1.09,1.12,1.13,1.12, 1.1,1.06,1.02,0.98,0.95];
var fNiNi_mace = [0,0,0,0,0,0,0,0,0,0,0, 0.45,1.15,2.25,2.6,2.75,1.4,0.9,0.65,0.55,0.48, 0.45,0.45,0.48,0.55,0.66,0.8,0.95,1.08,1.18,1.25, 1.29,1.29,1.24,1.16,1.06,0.96,0.87,0.8,0.76,0.75, 0.76,0.8,0.85,0.92,0.99,1.05,1.1,1.13,1.14,1.13, 1.11,1.07,1.03,0.99,0.96];

// ---- labels ----
var panelLetters = ["(a)", "(b)", "(c)", "(d)", "(e)", "(f)"];
var formulas = ["Fe_{160}H_{90} (Fe_{0.64}H_{0.36})", "Fe_{200}C_{50} (Fe_{0.8}C_{0.2})",
  "Fe_{190}O_{60} (Fe_{0.76}O_{0.24})", "Fe_{200}Si_{50} (Fe_{0.8}Si_{0.2})",
  "Fe_{190}S_{60} (Fe_{0.76}S_{0.24})", "Fe_{205}Ni_{51} (Fe_{0.8}Ni_{0.2})"];
var densities = ["11.94", "12.21", "12.03", "11.83", "11.83", "13.23"];
var seriesNames = ["MS-1M", "MS-5M", "MACE", "AIMD"];
var pressMS1 = [321, 324, 343, 317, 318, 326];
var pressMS5 = [324, 326, 338, 319, 318, 325];
var pressMACE = [336, 315, 299, 317, 300, 333];
var pressAIMD = [323, 323, 323, 323, 323, 323];
var pairLabels = [["Fe-Fe", "Fe-H", "H-H"], ["Fe-Fe", "Fe-C", "C-C"], ["Fe-Fe", "Fe-O", "O-O"],
  ["Fe-Fe", "Fe-Si", "Si-Si"], ["Fe-Fe", "Fe-S", "S-S"], ["Fe-Fe", "Fe-Ni", "Ni-Ni"]];
var yMaxes = [4, 5, 5.8, 5, 5.45, 5];
var yTickLabels = [[0, 1, 2, 3, 4], [0, 2, 4], [0, 2, 4], [0, 2, 4], [0, 2, 4], [0, 2, 4]];
var yMinorTicks = [[1, 2, 3], [1, 2, 3, 4], [2, 4], [1, 2, 3, 4], [1, 2, 3, 4], [1, 2, 3, 4]];
var xMinorTicks = [1, 1.5, 2, 2.5, 3, 3.5, 4, 4.5, 5, 5.5];
var xTickLabelsLeft = [[1, 2, 3, 4, 5, 6], [1, 2, 3, 4, 5, 6], [1, 2, 3, 4, 5, 6]];
var xTickLabelsRight = [[1, 2, 3, 4, 5, 6], [1, 2, 3, 4, 5], [1, 2, 3, 4, 5, 6]];

var gData = [
  [[aFeFe_ms1, aFeFe_ms5, aFeFe_mace, aFeFe_aimd], [aFeH_ms1, aFeH_ms5, aFeH_mace, aFeH_aimd], [aHH_ms1, aHH_ms5, aHH_mace, aHH_aimd]],
  [[bFeFe_ms1, bFeFe_ms5, bFeFe_mace, bFeFe_aimd], [bFeC_ms1, bFeC_ms5, bFeC_mace, bFeC_aimd], [bCC_ms1, bCC_ms5, bCC_mace, bCC_aimd]],
  [[cFeFe_ms1, cFeFe_ms5, cFeFe_mace, cFeFe_aimd], [cFeO_ms1, cFeO_ms5, cFeO_mace, cFeO_aimd], [cOO_ms1, cOO_ms5, cOO_mace, cOO_aimd]],
  [[dFeFe_ms1, dFeFe_ms5, dFeFe_mace, dFeFe_aimd], [dFeSi_ms1, dFeSi_ms5, dFeSi_mace, dFeSi_aimd], [dSiSi_ms1, dSiSi_ms5, dSiSi_mace, dSiSi_aimd]],
  [[eFeFe_ms1, eFeFe_ms5, eFeFe_mace, eFeFe_aimd], [eFeS_ms1, eFeS_ms5, eFeS_mace, eFeS_aimd], [eSS_ms1, eSS_ms5, eSS_mace, eSS_aimd]],
  [[fFeFe_ms1, fFeFe_ms5, fFeFe_mace, fFeFe_aimd], [fFeNi_ms1, fFeNi_ms5, fFeNi_mace, fFeNi_aimd], [fNiNi_ms1, fNiNi_ms5, fNiNi_mace, fNiNi_aimd]]
];

// ---- layout ----
var groupLeft = [57, 680];
var rowTop = [12, 190, 367];
var subW = 187, rowH = 164.5;
var colors = ["#1010ff", "#ff4520", "#5a9e2a"];
var pairLabelDy = [93, 110, 115, 93, 106, 115];
var pairLabelDx = [155, 147];

var svg = d3.select("#chart").append("svg")
    .attr("width", 1248)
    .attr("height", 582);
var defs = svg.append("defs");

function diamond(s) {
    return "M0," + (-s) + "L" + s + ",0L0," + s + "L" + (-s) + ",0Z";
}

// Write a string like "Fe_{160}H_{90}" as tspans with subscripts.
function addFormula(textSel, str) {
    var parts = str.split(/(_\{[^}]*\})/);
    var shifted = false;
    parts.forEach(function(part) {
        if (!part) return;
        if (part[0] === "_") {
            textSel.append("tspan").attr("font-size", 12).attr("dy", shifted ? 0 : 5)
                .text(part.slice(2, -1));
            shifted = true;
        } else {
            textSel.append("tspan").attr("dy", shifted ? -5 : 0).text(part);
            shifted = false;
        }
    });
}

var dataLayer = svg.append("g");
var frameLayer = svg.append("g");
var textLayer = svg.append("g");

panelLetters.forEach(function(letter, p) {
    var grp = p < 3 ? 0 : 1, row = p % 3;
    var x0 = groupLeft[grp], top = rowTop[row], bottom = top + rowH;
    var yScale = d3.scaleLinear().domain([0, yMaxes[p]]).range([bottom, top]);

    // clip marks to the row frame
    defs.append("clipPath").attr("id", "clip" + p)
        .append("rect")
        .attr("x", x0).attr("y", top)
        .attr("width", 3 * subW).attr("height", rowH);
    var rowData = dataLayer.append("g").attr("clip-path", "url(#clip" + p + ")");

    for (var s = 0; s < 3; s++) {
        var sx = x0 + s * subW;
        var xScale = d3.scaleLinear().domain([0.5, 6]).range([sx, sx + subW]);
        var sets = gData[p][s];

        // markers: MS-1M, MS-5M, MACE
        [0, 1, 2].forEach(function(k) {
            rowData.append("g").selectAll("path")
                .data(sets[k])
                .enter().append("path")
                .attr("d", diamond(4))
                .attr("transform", (d, i) => `translate(${xScale(rGrid[i])},${yScale(d)})`)
                .attr("fill", "none")
                .attr("stroke", colors[k])
                .attr("stroke-width", 1.3);
        });

        // AIMD line
        var line = d3.line()
            .x((d, i) => xScale(rGrid[i]))
            .y(d => yScale(d))
            .curve(d3.curveMonotoneX);
        rowData.append("path")
            .datum(sets[3])
            .attr("d", line)
            .attr("fill", "none")
            .attr("stroke", "#000")
            .attr("stroke-width", 1.6);

        // inward ticks
        frameLayer.append("g")
            .attr("transform", `translate(0,${bottom})`)
            .call(d3.axisBottom(xScale).tickValues(xMinorTicks).tickSize(-5).tickFormat(""))
            .call(g => g.select(".domain").remove());
        frameLayer.append("g")
            .attr("transform", `translate(${sx},0)`)
            .call(d3.axisLeft(yScale).tickValues(yMinorTicks[p]).tickSize(-5).tickFormat(""))
            .call(g => g.select(".domain").remove());

        // separators
        if (s > 0) {
            frameLayer.append("line")
                .attr("x1", sx).attr("x2", sx).attr("y1", top).attr("y2", bottom)
                .attr("stroke", "#000").attr("stroke-width", 1.2);
        }

        // pair label
        textLayer.append("text")
            .attr("x", sx + pairLabelDx[grp])
            .attr("y", top + pairLabelDy[p])
            .attr("text-anchor", "middle")
            .attr("font-size", 17)
            .text(pairLabels[p][s]);

        // x tick labels on bottom row only
        if (row === 2) {
            var labs = grp === 0 ? xTickLabelsLeft[s] : xTickLabelsRight[s];
            textLayer.append("g").selectAll("text")
                .data(labs)
                .enter().append("text")
                .attr("x", d => xScale(d))
                .attr("y", bottom + 20)
                .attr("text-anchor", "middle")
                .attr("font-size", 17)
                .text(d => d);
        }
    }

    // outer frame of the row
    frameLayer.append("rect")
        .attr("x", x0).attr("y", top)
        .attr("width", 3 * subW).attr("height", rowH)
        .attr("fill", "none").attr("stroke", "#000").attr("stroke-width", 1.2);

    // y tick labels
    textLayer.append("g").selectAll("text")
        .data(yTickLabels[p])
        .enter().append("text")
        .attr("x", x0 - 8)
        .attr("y", d => yScale(d) + 6)
        .attr("text-anchor", "end")
        .attr("font-size", 17)
        .text(d => d);

    // panel letter
    textLayer.append("text")
        .attr("x", grp === 0 ? 7 : 627)
        .attr("y", [21, 204, 381][row])
        .attr("font-size", 17)
        .text(letter);

    // composition and density
    var t = textLayer.append("text")
        .attr("x", x0 + 12).attr("y", top + 20)
        .attr("font-size", 17);
    addFormula(t, formulas[p]);
    var rho = textLayer.append("text")
        .attr("x", x0 + 19).attr("y", top + 44)
        .attr("font-size", 17);
    rho.append("tspan").text("\u03c1 = " + densities[p] + " g/cm");
    rho.append("tspan").attr("font-size", 12).attr("dy", -7).text("3");

    // legend box over subpanels 2 and 3
    var lx = x0 + subW;
    var leg = textLayer.append("g");
    leg.append("rect")
        .attr("x", lx + 1).attr("y", top + 1)
        .attr("width", 2 * subW - 2).attr("height", 49)
        .attr("fill", "#fff");
    var entries = [
        { k: 0, text: seriesNames[0] + ", " + pressMS1[p] + " GPa", mx: 7, tx: 26, dy: 0 },
        { k: 2, text: seriesNames[2] + ", " + pressMACE[p] + " GPa", mx: 7, tx: 26, dy: 25 },
        { k: 1, text: seriesNames[1] + ", " + pressMS5[p] + " GPa", mx: 202, tx: 231, dy: 0 },
        { k: 3, text: seriesNames[3] + ", " + pressAIMD[p] + " GPa", mx: 201, tx: 231, dy: 25 }
    ];
    entries.forEach(function(e) {
        if (e.k < 3) {
            leg.append("path")
                .attr("d", diamond(3.4))
                .attr("transform", `translate(${lx + e.mx},${top + 13 + e.dy})`)
                .attr("fill", "none").attr("stroke", colors[e.k]).attr("stroke-width", 1.3);
        } else {
            leg.append("line")
                .attr("x1", lx + 181).attr("x2", lx + 221)
                .attr("y1", top + 13 + e.dy).attr("y2", top + 13 + e.dy)
                .attr("stroke", "#000").attr("stroke-width", 1.6);
        }
        leg.append("text")
            .attr("x", lx + e.tx).attr("y", top + 19 + e.dy)
            .attr("font-size", 17)
            .text(e.text);
    });
});

// axis titles
[0, 1].forEach(function(grp) {
    var x0 = groupLeft[grp];
    textLayer.append("text")
        .attr("x", x0 + 1.5 * subW)
        .attr("y", 573)
        .attr("text-anchor", "middle")
        .attr("font-size", 17)
        .text("r (\u00c5)");
    textLayer.append("text")
        .attr("transform", `translate(${grp === 0 ? 17 : 651},${rowTop[1] + rowH / 2}) rotate(-90)`)
        .attr("text-anchor", "middle")
        .attr("font-size", 17)
        .text("g(r)");
});
</script>
</body>
</html>
